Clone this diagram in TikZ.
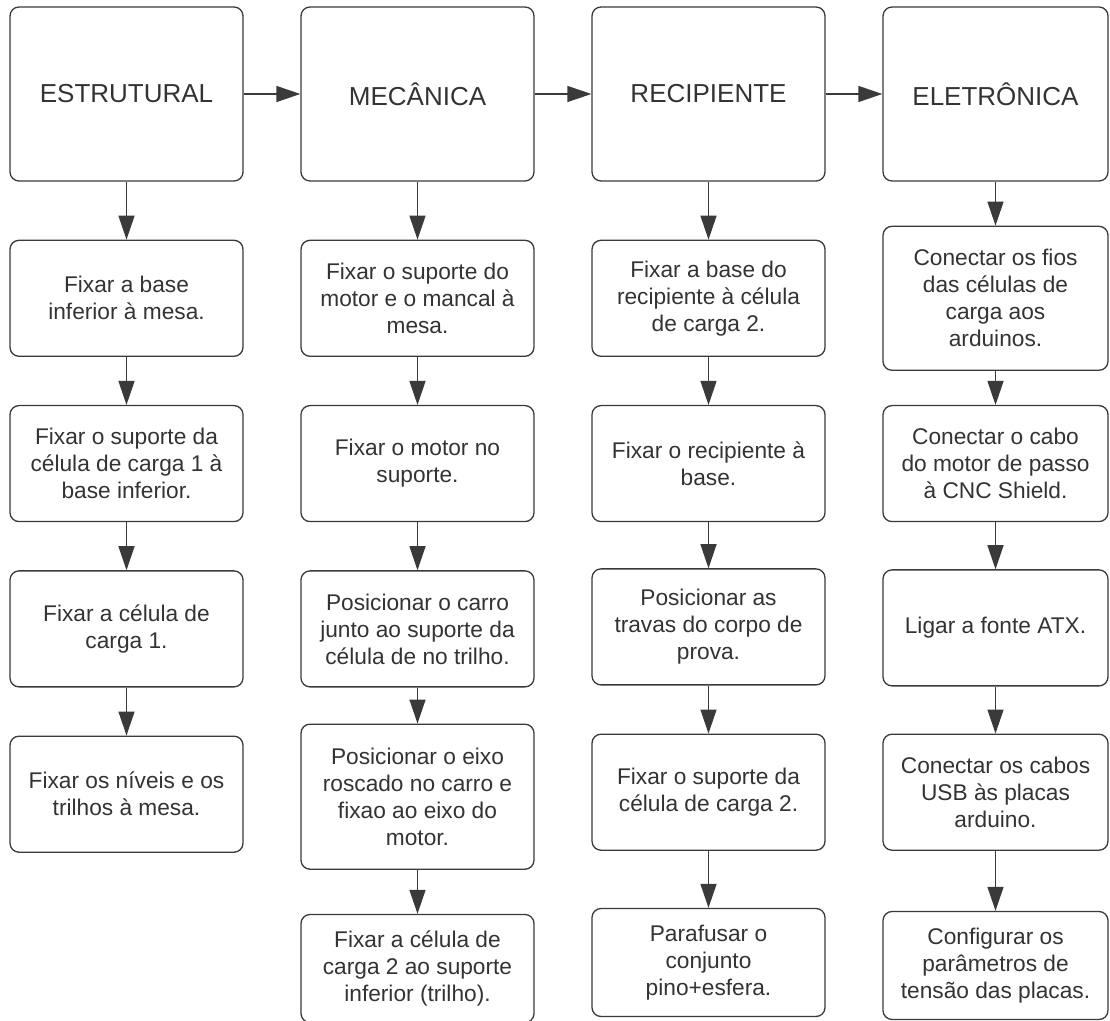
\documentclass[tikz,border=0pt]{standalone}
\usepackage{fontspec}
\setmainfont{Liberation Sans}
\usetikzlibrary{arrows.meta, positioning}
\definecolor{inkgray}{RGB}{51,51,51}
\definecolor{edgegray}{RGB}{58,58,58}

\begin{document}
\begin{tikzpicture}[
        x=1pt, y=1pt,
        node distance=48pt,
        header/.style={rectangle, draw=edgegray, line width=1.3pt, rounded corners=9pt, minimum width=233pt, minimum height=174pt, text=inkgray, font=\fontsize{26}{31}\selectfont, text centered},
        task/.style={rectangle, draw=edgegray, line width=1.3pt, rounded corners=9pt, minimum width=233pt, minimum height=116pt, text=inkgray, font=\fontsize{22.7}{27}\selectfont, align=center, inner sep=2pt},
        arrow/.style={-{Triangle[length=24pt, width=16pt]}, line width=1.3pt, draw=edgegray}
    ]
        \useasboundingbox (0,0) rectangle (1110,1020);

        % headers
        \node[header] (estr) at (126.5,926) {ESTRUTURAL};
        \node[header] (mec) at (417.5,926) {MECÂNICA};
        \node[header] (rec) at (708.5,926) {RECIPIENTE};
        \node[header, minimum width=225pt] (elet) at (995.5,926) {ELETRÔNICA};

        % estrutural
        \node[task, below=58pt of estr] (e1) {Fixar a base\\inferior à mesa.};
        \node[task, below=of e1] (e2) {Fixar o suporte da\\célula de carga 1 à\\base inferior.};
        \node[task, below=of e2] (e3) {Fixar a célula de\\carga 1.};
        \node[task, below=of e3] (e4) {Fixar os níveis e os\\trilhos à mesa.};

        % mecanica
        \node[task, below=58pt of mec] (m1) {Fixar o suporte do\\motor e o mancal à\\mesa.};
        \node[task, below=of m1] (m2) {Fixar o motor no\\suporte.};
        \node[task, below=of m2] (m3) {Posicionar o carro\\junto ao suporte da\\célula de no trilho.};
        \node[task, below=36pt of m3, minimum height=145pt] (m4) {Posicionar o eixo\\roscado no carro e\\fixao ao eixo do\\motor.};
        \node[task, below=44pt of m4, minimum height=108pt] (m5) {Fixar a célula de\\carga 2 ao suporte\\inferior (trilho).};

        % recipiente
        \node[task, below=58pt of rec] (r1) {Fixar a base do\\recipiente à célula\\de carga 2.};
        \node[task, below=of r1] (r2) {Fixar o recipiente à\\base.};
        \node[task, below=46pt of r2] (r3) {Posicionar as\\travas do corpo de\\prova.};
        \node[task, below=of r3] (r4) {Fixar o suporte da\\célula de carga 2.};
        \node[task, below=57pt of r4, minimum height=108pt] (r5) {Parafusar o\\conjunto\\pino+esfera.};

        % eletronica
        \node[task, below=44pt of elet, minimum width=225pt, minimum height=144pt] (l1) {Conectar os fios\\das células de\\carga aos\\arduinos.};
        \node[task, below=34pt of l1, minimum width=225pt] (l2) {Conectar o cabo\\do motor de passo\\à CNC Shield.};
        \node[task, below=47pt of l2, minimum width=225pt] (l3) {Ligar a fonte ATX.};
        \node[task, below=47pt of l3, minimum width=225pt] (l4) {Conectar os cabos\\USB às placas\\arduino.};
        \node[task, below=60pt of l4, minimum width=225pt, minimum height=108pt] (l5) {Configurar os\\parâmetros de\\tensão das placas.};

        \draw[arrow] (estr) -- (mec);
        \draw[arrow] (mec) -- (rec);
        \draw[arrow] (rec) -- (elet);

        \draw[arrow] (estr) -- (e1);
        \draw[arrow] (e1) -- (e2);
        \draw[arrow] (e2) -- (e3);
        \draw[arrow] (e3) -- (e4);

        \draw[arrow] (mec) -- (m1);
        \draw[arrow] (m1) -- (m2);
        \draw[arrow] (m2) -- (m3);
        \draw[arrow] (m3) -- (m4);
        \draw[arrow] (m4) -- (m5);

        \draw[arrow] (rec) -- (r1);
        \draw[arrow] (r1) -- (r2);
        \draw[arrow] (r2) -- (r3);
        \draw[arrow] (r3) -- (r4);
        \draw[arrow] (r4) -- (r5);

        \draw[arrow] (elet) -- (l1);
        \draw[arrow] (l1) -- (l2);
        \draw[arrow] (l2) -- (l3);
        \draw[arrow] (l3) -- (l4);
        \draw[arrow] (l4) -- (l5);
    \end{tikzpicture}
\end{document}
